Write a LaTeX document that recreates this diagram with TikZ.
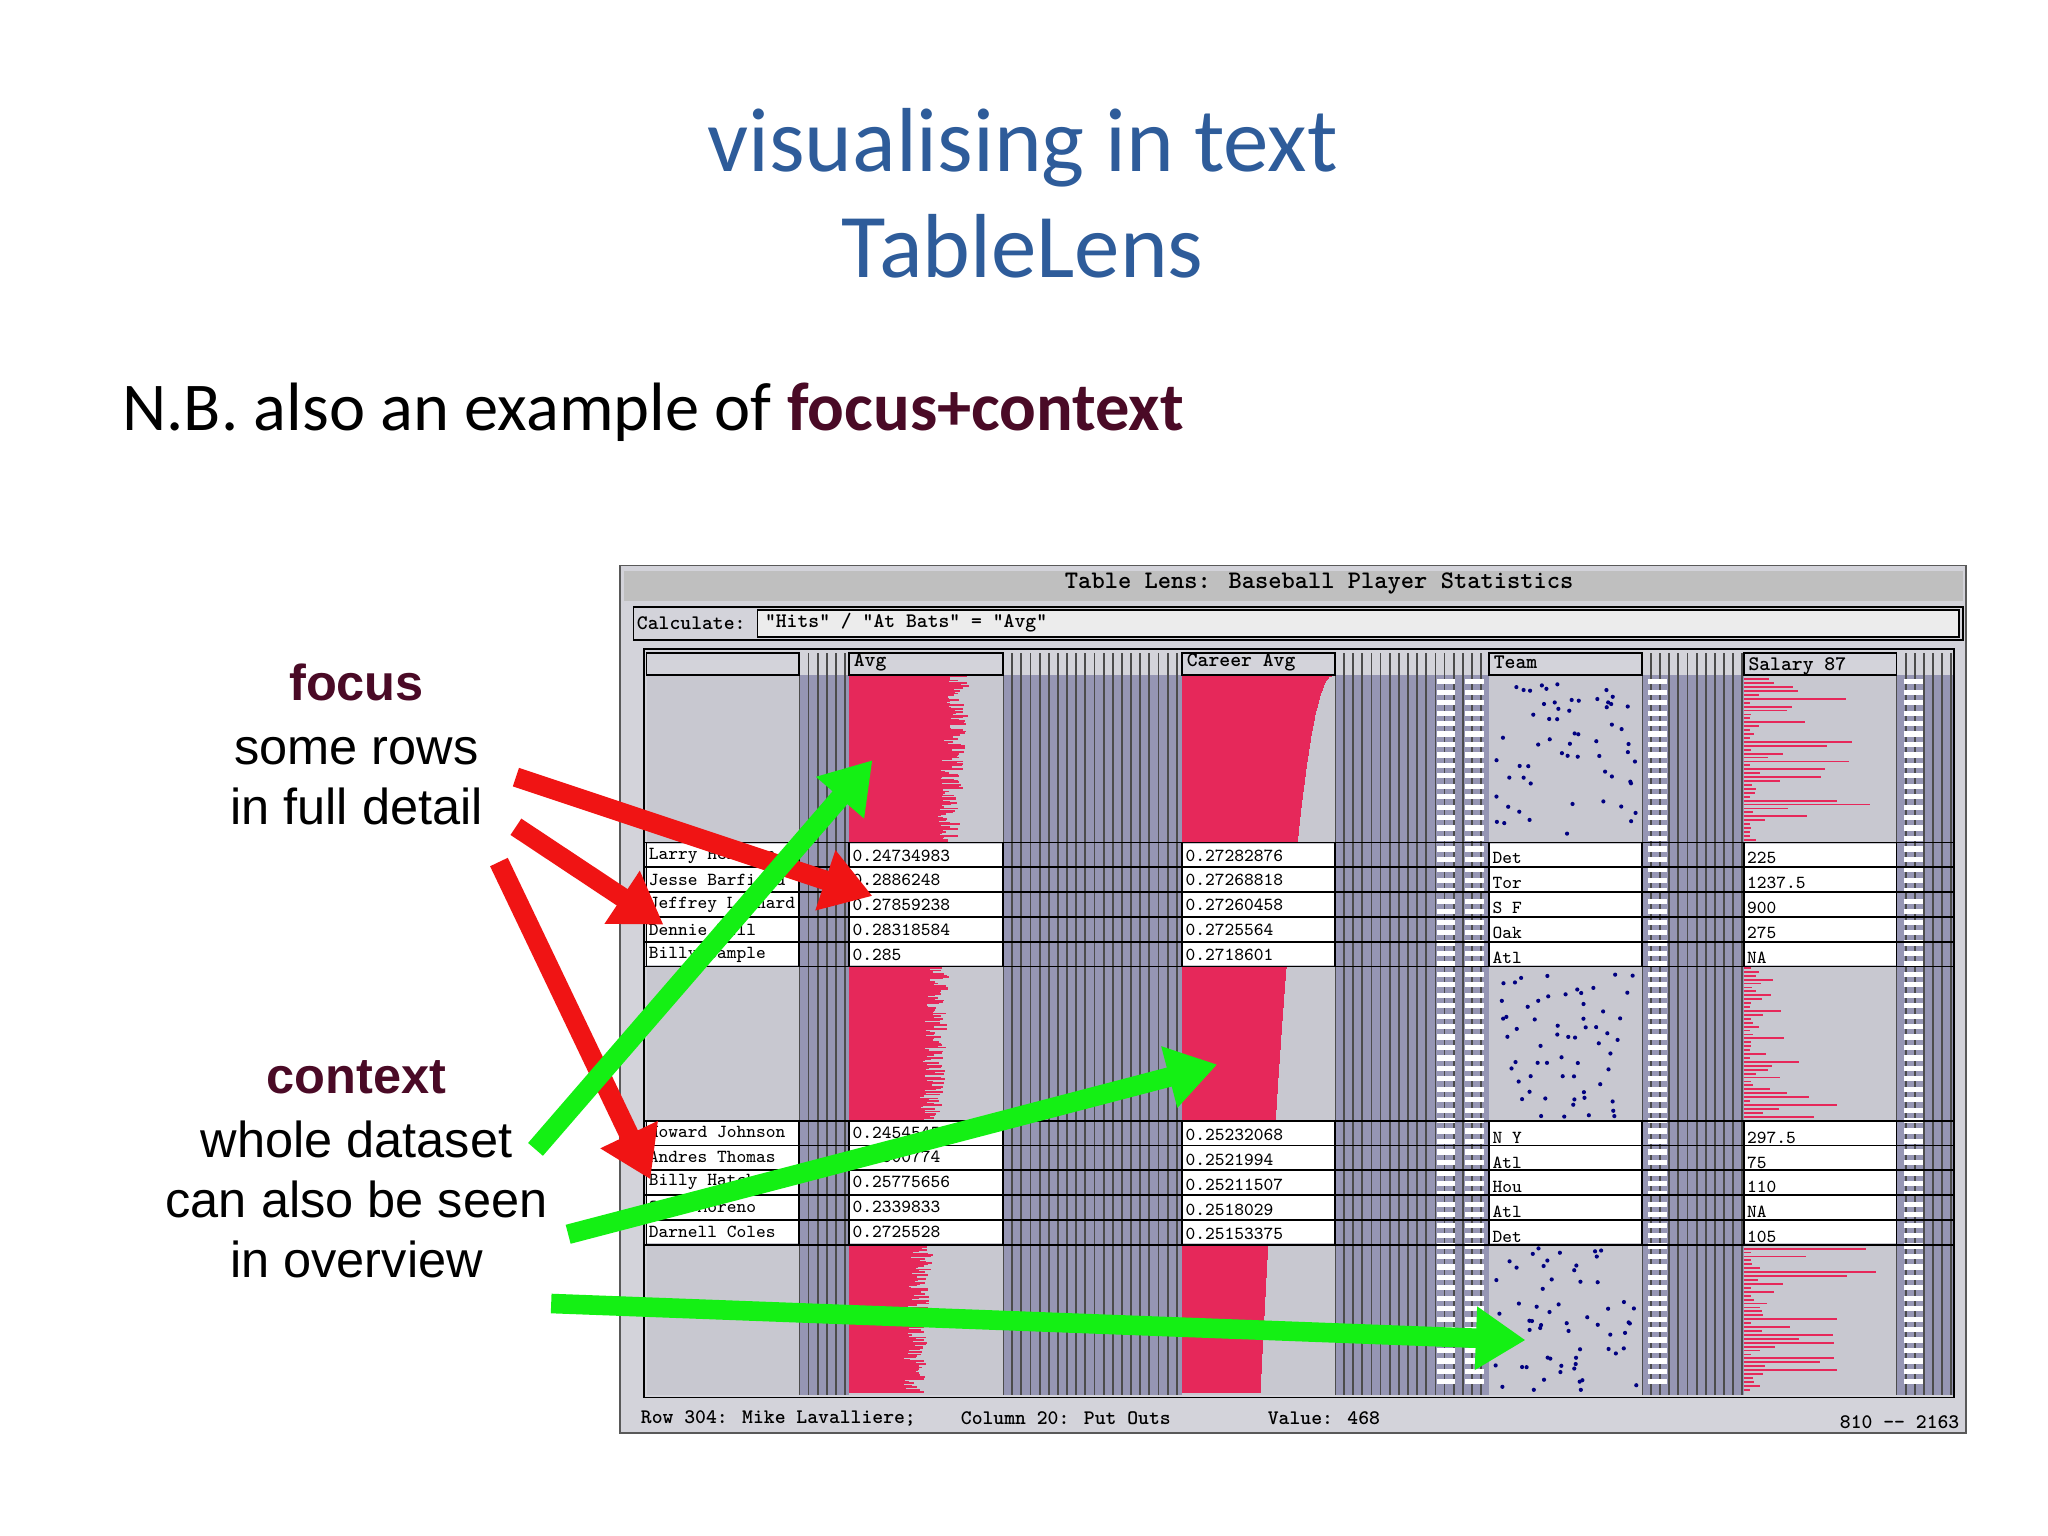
\documentclass[tikz,border=0pt]{standalone}
\usepackage{fontspec}
\setmainfont{Liberation Sans}
\newfontfamily\calib{Carlito}
\usetikzlibrary{arrows.meta}
\definecolor{ttl}{RGB}{46,92,154}
\definecolor{maroon}{RGB}{74,10,38}
\definecolor{tlred}{RGB}{230,40,90}
\definecolor{tlgray}{RGB}{200,200,208}
\definecolor{tlthin}{RGB}{150,150,180}
\definecolor{arrred}{RGB}{240,20,20}
\definecolor{arrgreen}{RGB}{20,240,20}
\tikzset{
  lbl/.style={font=\fontsize{11}{13}\selectfont, align=center, inner sep=0},
  hdr/.style={font=\fontsize{4.5}{5}\selectfont\ttfamily\bfseries, anchor=west, inner sep=0},
  cell/.style={font=\fontsize{4}{5}\selectfont\ttfamily, anchor=west, inner sep=0},
  redarr/.style={arrred, line width=1.5mm, -{Triangle[length=3.8mm,width=4.6mm]}},
  grnarr/.style={arrgreen, line width=1.5mm, -{Triangle[length=3.8mm,width=4.6mm]}},
}
\begin{document}
\begin{tikzpicture}[x=0.01cm,y=-0.01cm]
\useasboundingbox[fill=white] (0,0) rectangle (1568,1176);
% titles
\node[text=ttl, font=\calib\fontsize{19.8}{23}\selectfont, align=center] (title) at (783,148) {visualising in text\\TableLens};
\node[font=\calib\fontsize{14.9}{17}\selectfont, anchor=west, inner sep=0] (nb) at (93,316) {N.B. also an example of \textcolor{maroon}{\textbf{focus+context}}};
% labels
\node[lbl] (focus) at (273,570) {\textcolor{maroon}{\textbf{focus}}\\[1pt]some rows\\in full detail};
\node[lbl] (context) at (273,895) {\textcolor{maroon}{\textbf{context}}\\[1pt]whole dataset\\can also be seen\\in overview};
% screenshot frame
\fill[tlgray!80] (475,433) rectangle (1505,1097);
\draw[gray!70!black] (475,433) rectangle (1505,1097);
\fill[gray!50] (478,437) rectangle (1503,460);
\node[hdr, font=\fontsize{5.5}{6}\selectfont\ttfamily\bfseries, anchor=center] (tbar) at (1010,447) {Table Lens: Baseball Player Statistics};
\draw[black] (485,465) rectangle (1503,490);
\node[hdr] (calc) at (487,477) {Calculate:};
\draw[black,fill=gray!15] (580,467) rectangle (1500,488);
\node[hdr] (formula) at (585,477) {"Hits" / "At Bats" = "Avg"};
\draw[black] (493,497) rectangle (1496,1070);
% thin columns
\foreach \a/\b in {612/650,768/905,1022/1140,1257/1335,1452/1495}{
  \fill[tlthin] (\a,517) rectangle (\b,1068);
  \foreach \x in {\a,...,\b}{ \pgfmathparse{mod(\x-\a,7)==0?1:0}\ifnum\pgfmathresult=1 \draw[black!70] (\x,500) -- (\x,1068);\fi }
}
\foreach \x/\c in {1100/white,1122/white,1262/white,1458/white}{
  \foreach \y in {520,528,...,1060}{\fill[\c] (\x,\y) rectangle ++(14,4);}
}
% data columns gray areas
\foreach \a/\b in {495/612,650/768,905/1022,1140/1257,1335/1452}{
  \fill[tlgray] (\a,517) rectangle (\b,1068);
  \draw[black] (\a,500) rectangle (\b,517);
}
\node[hdr] (havg) at (653,507) {Avg};
\node[hdr] (hcar) at (908,507) {Career Avg};
\node[hdr] (hteam) at (1143,507) {Team};
\node[hdr] (hsal) at (1338,510) {Salary 87};
% Avg red bars
\pgfmathsetseed{7}
\foreach \s/\e in {518/645,741/858,953/1066}{
  \foreach \y in {\s,...,\e}{
    \pgfmathsetmacro\w{40+35*(1-(\y-518)/550)+18*rnd}
    \draw[tlred] (650,\y) -- ++(\w,0);
  }
}
% Career avg
\foreach \s/\e in {518/645,741/858,953/1066}{
  \foreach \y in {\s,...,\e}{
    \pgfmathsetmacro\w{115-55*sqrt((\y-518)/550)}
    \draw[tlred] (905,\y) -- ++(\w,0);
  }
}
% Salary
\foreach \s/\e in {520/645,741/858,953/1066}{
  \foreach \y in {\s,\the\numexpr\s+3\relax,...,\e}{
    \pgfmathsetmacro\w{5+100*rnd^3}
    \draw[tlred] (1335,\y) -- ++(\w,0);
  }
}
% Team dots
\foreach \s/\e in {520/645,745/855,955/1065}{
  \foreach \i in {1,...,60}{
    \pgfmathsetmacro\xx{1145+108*rnd}
    \pgfmathsetmacro\yy{\s+(\e-\s)*rnd}
    \fill[blue!50!black] (\xx,\yy) circle (1.6);
  }
}
% focus rows
\foreach \rows/\top in {1/645,2/858}{
  \foreach \k in {0,...,5}{
    \draw[black] (493,\top+\k*19) -- (1496,\top+\k*19);
  }
  \foreach \a/\b in {495/612,650/768,905/1022,1140/1257,1335/1452}{
    \fill[white] (\a,\top+1) rectangle (\b,\top+94);
    \foreach \k in {0,...,5}{\draw[black] (\a,\top+\k*19) -- (\b,\top+\k*19);}
    \draw[black] (\a,\top) rectangle (\b,\top+95);
  }
}
\foreach \i/\n/\a/\c/\t/\s in {0/Larry Herndon/0.24734983/0.27282876/Det/225, 1/Jesse Barfield/0.2886248/0.27268818/Tor/1237.5, 2/Jeffrey Leonard/0.27859238/0.27260458/S F/900, 3/Dennie Hill/0.28318584/0.2725564/Oak/275, 4/Billy Sample/0.285/0.2718601/Atl/NA}{
  \node[cell] (n\i) at (496,655+\i*19) {\n};
  \node[cell] (a\i) at (652,655+\i*19) {\a};
  \node[cell] (c\i) at (907,655+\i*19) {\c};
  \node[cell] (t\i) at (1142,657+\i*19) {\t};
  \node[cell] (s\i) at (1337,657+\i*19) {\s};
}
\foreach \i/\n/\a/\c/\t/\s in {0/Howard Johnson/0.24545455/0.25232068/N Y/297.5, 1/Andres Thomas/0.2500774/0.2521994/Atl/75, 2/Billy Hatcher/0.25775656/0.25211507/Hou/110, 3/Omar Moreno/0.2339833/0.2518029/Atl/NA, 4/Darnell Coles/0.2725528/0.25153375/Det/105}{
  \node[cell] (m\i) at (496,867+\i*19) {\n};
  \node[cell] (b\i) at (652,867+\i*19) {\a};
  \node[cell] (d\i) at (907,869+\i*19) {\c};
  \node[cell] (u\i) at (1142,871+\i*19) {\t};
  \node[cell] (v\i) at (1337,871+\i*19) {\s};
}
% status bar
\node[hdr] (st1) at (490,1086) {Row 304: Mike Lavalliere;};
\node[hdr] (st2) at (735,1086) {Column 20: Put Outs};
\node[hdr] (st3) at (970,1086) {Value: 468};
\node[hdr] (st4) at (1408,1089) {810 -- 2163};
% arrow coordinates
\coordinate (r1s) at (395,595); \coordinate (r1e) at (668,686);
\coordinate (r2s) at (395,633); \coordinate (r2e) at (508,708);
\coordinate (r3s) at (382,660); \coordinate (r3e) at (498,903);
\coordinate (g1s) at (410,880); \coordinate (g1e) at (668,582);
\coordinate (g2s) at (435,945); \coordinate (g2e) at (932,815);
\coordinate (g3s) at (422,998); \coordinate (g3e) at (1168,1026);
\draw[redarr] (r1s) -- (r1e);
\draw[redarr] (r2s) -- (r2e);
\draw[redarr] (r3s) -- (r3e);
\draw[grnarr] (g1s) -- (g1e);
\draw[grnarr] (g2s) -- (g2e);
\draw[grnarr] (g3s) -- (g3e);
\end{tikzpicture}
\end{document}
